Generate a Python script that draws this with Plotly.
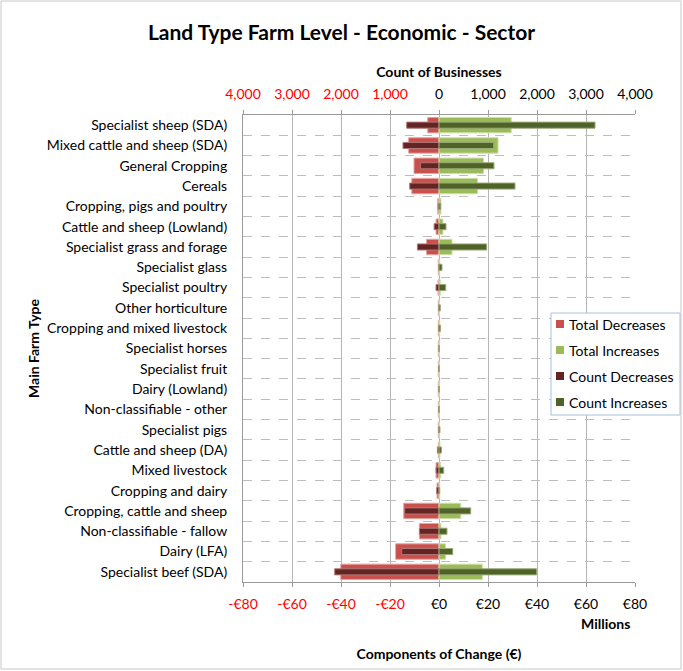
import plotly.graph_objects as go

# Farm types, listed top to bottom
farm_types = [
    "Specialist sheep (SDA)", "Mixed cattle and sheep (SDA)", "General Cropping",
    "Cereals", "Cropping, pigs and poultry", "Cattle and sheep (Lowland)",
    "Specialist grass and forage", "Specialist glass", "Specialist poultry",
    "Other horticulture", "Cropping and mixed livestock", "Specialist horses",
    "Specialist fruit", "Dairy (Lowland)", "Non-classifiable - other",
    "Specialist pigs", "Cattle and sheep (DA)", "Mixed livestock",
    "Cropping and dairy", "Cropping, cattle and sheep", "Non-classifiable - fallow",
    "Dairy (LFA)", "Specialist beef (SDA)",
]

# Components of change, € millions
total_decreases = [-4.6, -12.4, -10.2, -11.1, -0.5, -1.2, -5.1, -0.3, -0.4, -0.3, -0.3,
                   -0.3, -0.3, -0.3, -0.3, -0.3, -0.3, -1.2, -0.8, -14.4, -8.0, -17.7, -40.1]
total_increases = [29.5, 24.1, 18.2, 15.7, 0.8, 1.6, 5.3, 0.3, 0.5, 0.2, 0.3,
                   0.1, 0.1, 0.1, 0.1, 0.2, 0.4, 0.7, 0.3, 8.9, 0.8, 2.7, 17.7]

# Count of businesses
count_decreases = [-660, -735, -380, -598, -20, -100, -441, -5, -61, -5, -10,
                   -3, -3, -3, -3, -5, -33, -60, -47, -700, -400, -761, -2129]
count_increases = [3184, 1116, 1122, 1551, 35, 143, 973, 61, 137, 27, 30,
                   5, 5, 5, 5, 20, 49, 96, 14, 647, 163, 280, 1994]

money_ticks = [-80, -60, -40, -20, 0, 20, 40, 60, 80]
count_ticks = [-4000, -3000, -2000, -1000, 0, 1000, 2000, 3000, 4000]

RED = "#FF0000"
FONT = "Lato"

# Plot-area geometry in pixels (used to place overlay items in paper units)
W, H = 683, 671
L, R, T, B = 243, 48, 115, 89
PW, PH = W - L - R, H - T - B


def px(x):
    return (x - L) / PW


def py(y):
    return (H - B - y) / PH


def money_label(v):
    if v < 0:
        return f'<span style="color:{RED}">-€{abs(v)}</span>'
    return f"€{v}"


def count_label(v):
    if v < 0:
        return f'<span style="color:{RED}">{abs(v):,}</span>'
    return f"{v:,}"


series = [
    ("Total Decreases", total_decreases, "#C9504C", "#E7A3A0", 0.76, "x"),
    ("Total Increases", total_increases, "#9BBB59", "#CFE0AA", 0.76, "x"),
    ("Count Decreases", count_decreases, "#632523", "#B07876", 0.3, "x2"),
    ("Count Increases", count_increases, "#4F6228", "#9AAA7A", 0.3, "x2"),
]

fig = go.Figure()
for name, vals, color, edge, w, xa in series:
    fig.add_trace(go.Bar(
        y=farm_types, x=vals, orientation="h", name=name,
        marker=dict(color=color, line=dict(color=edge, width=1)),
        width=w, xaxis=xa, yaxis="y", showlegend=False,
    ))

fig.update_layout(
    width=W, height=H,
    margin=dict(l=L, r=R, t=T, b=B, autoexpand=False),
    paper_bgcolor="white", plot_bgcolor="white",
    barmode="overlay",
    font=dict(family=FONT, size=14, color="black"),
    title=dict(text="<b>Land Type Farm Level - Economic - Sector</b>",
               x=0.5, xanchor="center", y=1 - 33 / H, yanchor="middle",
               font=dict(size=21, family=FONT)),
    xaxis=dict(
        range=[-80, 80], tickvals=money_ticks,
        ticktext=[money_label(v) for v in money_ticks],
        showgrid=True, gridcolor="#B5B5B5", gridwidth=1,
        zeroline=False, showline=True, linecolor="#9A9A9A",
        ticks="outside", ticklen=4, tickcolor="#9A9A9A",
        tickfont=dict(size=14), ticklabelstandoff=5, fixedrange=True,
        title=dict(text="<b>Components of Change (€)</b>", standoff=38,
                   font=dict(size=14)),
    ),
    xaxis2=dict(
        range=[-4000, 4000], tickvals=count_ticks,
        ticktext=[count_label(v) for v in count_ticks],
        overlaying="x", side="top", showgrid=False, zeroline=False,
        showline=True, linecolor="#9A9A9A",
        ticks="outside", ticklen=4, tickcolor="#9A9A9A",
        tickfont=dict(size=14), ticklabelstandoff=5,
        title=dict(text="<b>Count of Businesses</b>", standoff=4,
                   font=dict(size=14)),
    ),
    yaxis=dict(
        autorange="reversed", tickson="boundaries",
        showgrid=True, gridcolor="#BDBDBD", griddash="dash", gridwidth=1,
        showline=True, linecolor="#9A9A9A", mirror=False,
        ticks="", tickfont=dict(size=14), ticklabelstandoff=12,
    ),
    showlegend=False,
)

# Axis unit label and vertical axis title
fig.add_annotation(text="<b>Millions</b>", xref="paper", yref="paper",
                   x=px(605), y=py(623), showarrow=False,
                   xanchor="center", yanchor="middle", font=dict(size=14))
fig.add_annotation(text="<b>Main Farm Type</b>", xref="paper", yref="paper",
                   x=px(33), y=py(348), textangle=-90, showarrow=False,
                   xanchor="center", yanchor="middle", font=dict(size=14))

# Legend box with small square keys
fig.add_shape(type="rect", xref="paper", yref="paper",
              x0=px(551), x1=px(680), y0=py(415), y1=py(313),
              fillcolor="white", line=dict(color="#A9C0DD", width=1),
              layer="above")
for i, (name, _, color, _, _, _) in enumerate(series):
    yc = 324 + i * 26
    fig.add_shape(type="rect", xref="paper", yref="paper",
                  x0=px(556), x1=px(564), y0=py(yc + 4), y1=py(yc - 4),
                  fillcolor=color, line=dict(width=0), layer="above")
    fig.add_annotation(text=name, xref="paper", yref="paper",
                       x=px(567), y=py(yc), showarrow=False,
                       xanchor="left", yanchor="middle", font=dict(size=14))

# Chart frame
fig.add_shape(type="rect", xref="paper", yref="paper",
              x0=px(1), x1=px(681), y0=py(669), y1=py(1),
              line=dict(color="#C8C8C8", width=1), layer="below")

fig.write_html("out.html")
